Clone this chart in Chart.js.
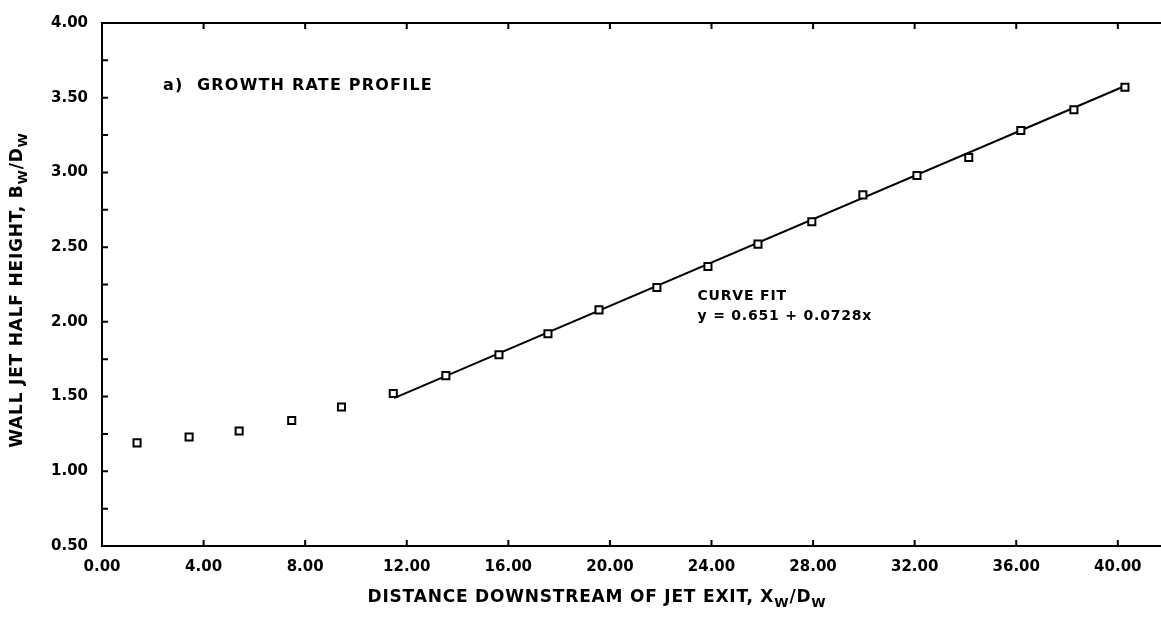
<!DOCTYPE html>
<html>
<head>
<meta charset="utf-8">
<script src="https://cdn.jsdelivr.net/npm/chart.js@4"></script>
<style>
html, body { margin: 0; padding: 0; background: #fff; }
</style>
</head>
<body>
<canvas id="chart" width="1161" height="618"></canvas>
<script>
// measured points, wall jet half height vs distance downstream
let xPoints = [1.38, 3.43, 5.40, 7.47, 9.43, 11.47, 13.54, 15.63, 17.56, 19.57, 21.85, 23.86, 25.83, 27.95, 29.96, 32.09, 34.13, 36.18, 38.27, 40.28]
let yPoints = [1.19, 1.23, 1.27, 1.34, 1.43, 1.52, 1.64, 1.78, 1.92, 2.08, 2.23, 2.37, 2.52, 2.67, 2.85, 2.98, 3.10, 3.28, 3.42, 3.57]

// curve fit line, end points as drawn
let fitX = [11.5, 40.3]
let fitY = [1.49, 3.58]

let xTicks = [0, 4, 8, 12, 16, 20, 24, 28, 32, 36, 40]
let yTicks = [0.5, 1.0, 1.5, 2.0, 2.5, 3.0, 3.5, 4.0]
let yMinorTicks = [0.75, 1.0, 1.25, 1.5, 1.75, 2.0, 2.25, 2.5, 2.75, 3.0, 3.25, 3.5, 3.75]

let FONT = '"DejaVu Sans", sans-serif'

function drawRich(ctx, parts, cx, cy) {
    let widths = parts.map(p => {
        ctx.font = p.sub ? 'bold 13px ' + FONT : 'bold 17px ' + FONT
        return ctx.measureText(p.t).width
    })
    let total = widths.reduce((a, b) => a + b, 0)
    let x = cx - total / 2
    ctx.textAlign = 'left'
    ctx.textBaseline = 'middle'
    parts.forEach((p, i) => {
        ctx.font = p.sub ? 'bold 13px ' + FONT : 'bold 17px ' + FONT
        ctx.fillText(p.t, x, p.sub ? cy + 6 : cy)
        x += widths[i]
    })
}

let frame = {
    id: 'frame',
    afterDraw(chart) {
        let ctx = chart.ctx
        let a = chart.chartArea
        let xs = chart.scales.x
        let ys = chart.scales.y
        ctx.save()
        ctx.strokeStyle = '#000'
        ctx.lineWidth = 2
        ctx.beginPath()
        ctx.moveTo(a.left, a.top)
        ctx.lineTo(a.right, a.top)
        xTicks.forEach(v => {
            if (v === 0) return
            let px = xs.getPixelForValue(v)
            ctx.moveTo(px, a.bottom)
            ctx.lineTo(px, a.bottom - 6)
            ctx.moveTo(px, a.top)
            ctx.lineTo(px, a.top + 6)
        })
        yMinorTicks.forEach(v => {
            let py = ys.getPixelForValue(v)
            ctx.moveTo(a.left, py)
            ctx.lineTo(a.left + 6, py)
        })
        ctx.stroke()

        ctx.fillStyle = '#000'
        ctx.textBaseline = 'middle'
        ctx.textAlign = 'left'
        ctx.letterSpacing = '1.2px'
        ctx.font = 'bold 16px ' + FONT
        ctx.fillText('a)  GROWTH RATE PROFILE', xs.getPixelForValue(2.4), ys.getPixelForValue(3.58))
        ctx.letterSpacing = '0.8px'
        ctx.font = 'bold 14px ' + FONT
        ctx.fillText('CURVE FIT', xs.getPixelForValue(23.45), ys.getPixelForValue(2.17))
        ctx.fillText('y = 0.651 + 0.0728x', xs.getPixelForValue(23.45), ys.getPixelForValue(2.04))

        // axis titles with subscripts
        ctx.letterSpacing = '0.8px'
        drawRich(ctx, [
            {t: 'DISTANCE DOWNSTREAM OF JET EXIT, X'}, {t: 'W', sub: true},
            {t: '/D'}, {t: 'W', sub: true}
        ], 597, 598)
        ctx.translate(18, 290)
        ctx.rotate(-Math.PI / 2)
        drawRich(ctx, [
            {t: 'WALL JET HALF HEIGHT, B'}, {t: 'W', sub: true},
            {t: '/D'}, {t: 'W', sub: true}
        ], 0, 0)
        ctx.letterSpacing = '0px'
        ctx.restore()
    }
}

new Chart(document.getElementById('chart').getContext('2d'), {
    type: 'scatter',
    data: {
        datasets: [{
            label: 'Data',
            data: xPoints.map((x, i) => ({x: x, y: yPoints[i]})),
            pointStyle: 'rect',
            pointRadius: 5,
            backgroundColor: '#fff',
            borderColor: '#000',
            borderWidth: 2,
            order: 0
        }, {
            label: 'Curve fit',
            data: fitX.map((x, i) => ({x: x, y: fitY[i]})),
            showLine: true,
            pointRadius: 0,
            borderColor: '#000',
            borderWidth: 2,
            order: 1
        }]
    },
    options: {
        responsive: false,
        animation: false,
        layout: { autoPadding: false, padding: { top: 19, right: 0, left: 0, bottom: 0 } },
        plugins: { legend: { display: false }, tooltip: { enabled: false } },
        scales: {
            x: {
                type: 'linear',
                min: 0,
                max: 41.7,
                afterBuildTicks: s => { s.ticks = xTicks.map(v => ({value: v})) },
                afterFit: s => { s.height = 72 },
                ticks: {
                    callback: v => v.toFixed(2),
                    color: '#000',
                    font: { family: FONT, size: 15, weight: 'bold' },
                    padding: 12,
                    maxRotation: 0,
                    autoSkip: false
                },
                grid: { drawOnChartArea: false, drawTicks: false },
                border: { display: true, color: '#000', width: 2 }
            },
            y: {
                min: 0.5,
                max: 4.0,
                afterBuildTicks: s => { s.ticks = yTicks.map(v => ({value: v})) },
                afterFit: s => { s.width = 102 },
                ticks: {
                    callback: v => v.toFixed(2),
                    color: '#000',
                    font: { family: FONT, size: 15, weight: 'bold' },
                    padding: 14,
                    autoSkip: false
                },
                grid: { drawOnChartArea: false, drawTicks: false },
                border: { display: true, color: '#000', width: 2 }
            }
        }
    },
    plugins: [frame]
})
</script>
</body>
</html>
